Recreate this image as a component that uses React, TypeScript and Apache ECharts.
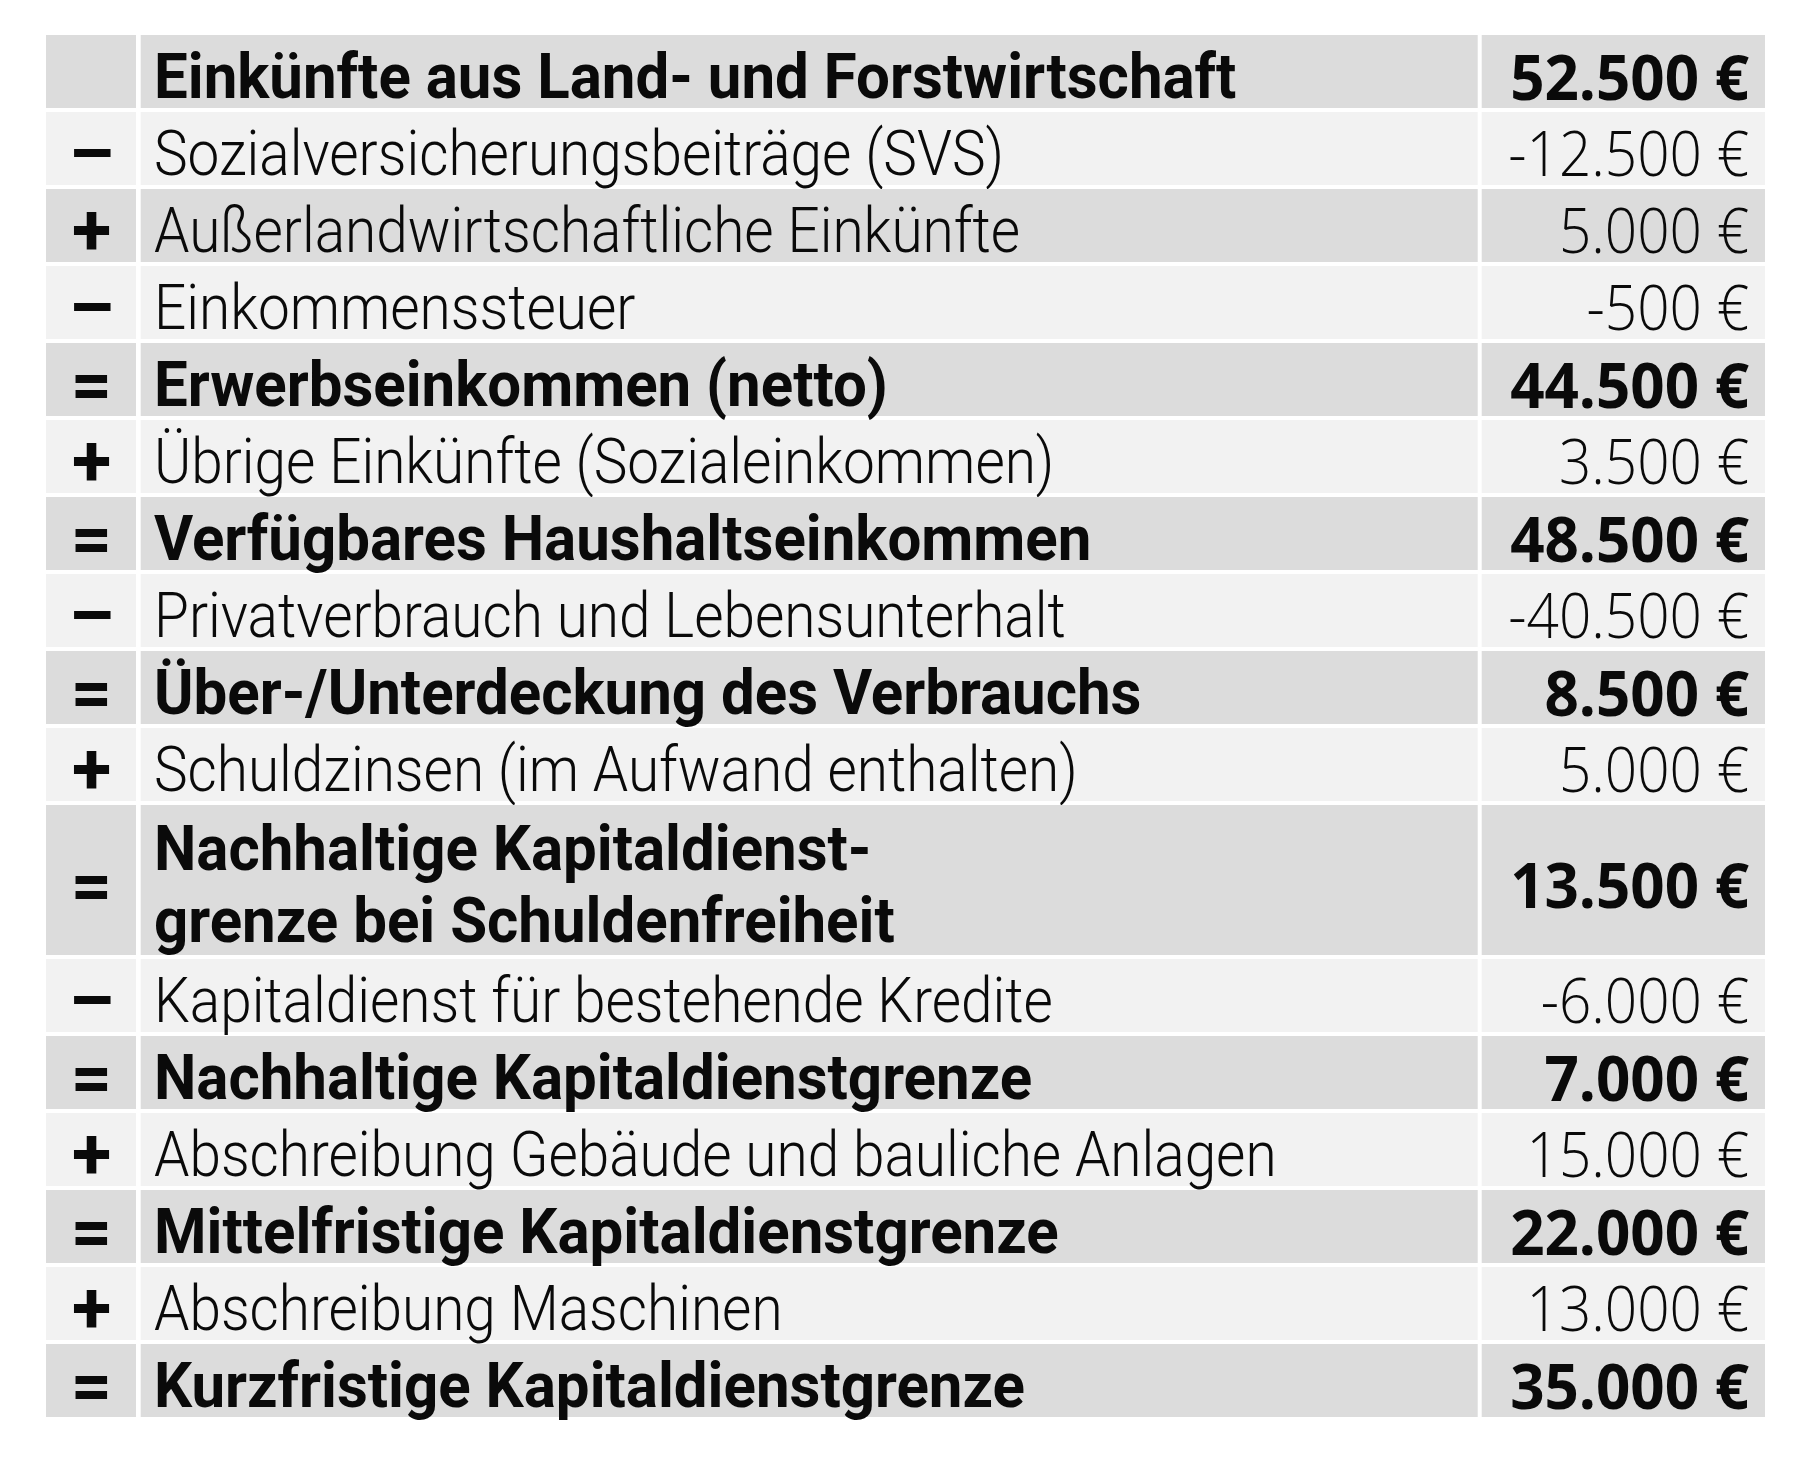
import React, { useEffect, useRef } from "react";
import * as echarts from "echarts";

// ---------- data ----------
const signs = ["", "–", "+", "–", "=", "+", "=", "–", "=", "+", "=", "–", "=", "+", "=", "+", "="];
const labels = [
  "Einkünfte aus Land- und Forstwirtschaft",
  "Sozialversicherungsbeiträge (SVS)",
  "Außerlandwirtschaftliche Einkünfte",
  "Einkommenssteuer",
  "Erwerbseinkommen (netto)",
  "Übrige Einkünfte (Sozialeinkommen)",
  "Verfügbares Haushaltseinkommen",
  "Privatverbrauch und Lebensunterhalt",
  "Über-/Unterdeckung des Verbrauchs",
  "Schuldzinsen (im Aufwand enthalten)",
  "Nachhaltige Kapitaldienst-\ngrenze bei Schuldenfreiheit",
  "Kapitaldienst für bestehende Kredite",
  "Nachhaltige Kapitaldienstgrenze",
  "Abschreibung Gebäude und bauliche Anlagen",
  "Mittelfristige Kapitaldienstgrenze",
  "Abschreibung Maschinen",
  "Kurzfristige Kapitaldienstgrenze",
];
const values = [52500, -12500, 5000, -500, 44500, 3500, 48500, -40500, 8500, 5000, 13500, -6000, 7000, 15000, 22000, 13000, 35000];
const isTotal = [true, false, false, false, true, false, true, false, true, false, true, false, true, false, true, false, true];
const rowSpans = [1, 1, 1, 1, 1, 1, 1, 1, 1, 1, 2, 1, 1, 1, 1, 1, 1];

// ---------- layout / style ----------
const GRID_LEFT = 46;
const GRID_TOP = 33;
const GRID_W = 1719;
const GRID_H = 1386;
const ROW_GAP = 4;
const COL1_W = 90;
const COL2_X = 94.7;
const COL2_W = 1337;
const COL3_X = 1435.7;
const SIGN_CX = 45.5;
const NAME_X = 108;
const VALUE_R = 1703;
const DARK = "#dcdcdc";
const LIGHT = "#f2f2f2";
const INK = "#0a0a0a";
const FS = 63;
const LINE_H = 72.4;

const NAME_FAMILY = "Roboto";
const VALUE_FAMILY = "'Open Sans'";
const fontNameLight = `300 ${FS}px ${NAME_FAMILY}`;
const fontNameBold = `700 ${FS}px ${NAME_FAMILY}`;
const fontValueLight = `300 ${FS}px ${VALUE_FAMILY}`;
const fontValueBold = `700 ${FS}px ${VALUE_FAMILY}`;
const fontSign = `700 72px ${NAME_FAMILY}`;

function fmtEuro(v: number): string {
  const s = Math.abs(v).toString().replace(/\B(?=(\d{3})+(?!\d))/g, ".");
  return (v < 0 ? "-" : "") + s + " €";
}

function measure(font: string, text: string): number {
  const c = document.createElement("canvas");
  const ctx = c.getContext("2d");
  if (!ctx) return 1;
  ctx.font = font;
  return ctx.measureText(text).width || 1;
}

export default function App() {
  const ref = useRef<HTMLDivElement | null>(null);

  useEffect(() => {
    if (!ref.current) return;
    const chart = echarts.init(ref.current, undefined, { renderer: "svg" });

    // horizontal condensation so that the substitute fonts match the narrow original face
    const sNameLight = 850 / measure(fontNameLight, labels[1]);
    const sNameBold = 1083 / measure(fontNameBold, labels[0]);
    const sValueLight = 190 / measure(fontValueLight, fmtEuro(values[5]));
    const sValueBold = 239 / measure(fontValueBold, fmtEuro(values[4]));

    const rowStart: number[] = [];
    let acc = 0;
    rowSpans.forEach((s) => {
      rowStart.push(acc);
      acc += s;
    });
    const data = rowStart.map((st, i) => [st, rowSpans[i]]);

    const txt = (x: number, y: number, text: string, font: string, align: string, scaleX: number) => ({
      type: "text",
      x,
      y,
      scaleX,
      silent: true,
      style: {
        text,
        font,
        fill: INK,
        textAlign: align,
        textVerticalAlign: "middle",
        align,
        verticalAlign: "middle",
      },
    });

    const option: any = {
      animation: false,
      backgroundColor: "#ffffff",
      grid: { left: GRID_LEFT, top: GRID_TOP, width: GRID_W, height: GRID_H },
      xAxis: { type: "value", min: 0, max: 1, show: false },
      yAxis: { type: "value", min: 0, max: acc, inverse: true, show: false },
      series: [
        {
          type: "custom",
          clip: false,
          data,
          renderItem: (params: any, api: any) => {
            const i = params.dataIndex;
            const start = api.value(0);
            const span = api.value(1);
            const x0 = params.coordSys.x;
            const yTop = api.coord([0, start])[1] + ROW_GAP / 2;
            const yBot = api.coord([0, start + span])[1] - ROW_GAP / 2;
            const h = yBot - yTop;
            const cy = (yTop + yBot) / 2;
            const fill = i % 2 === 0 ? DARK : LIGHT;
            const bold = isTotal[i];
            const children: any[] = [
              { type: "rect", shape: { x: x0, y: yTop, width: COL1_W, height: h }, style: { fill } },
              { type: "rect", shape: { x: x0 + COL2_X, y: yTop, width: COL2_W, height: h }, style: { fill } },
              {
                type: "rect",
                shape: { x: x0 + COL3_X, y: yTop, width: GRID_W - COL3_X, height: h },
                style: { fill },
              },
            ];
            if (signs[i]) children.push(txt(x0 + SIGN_CX, cy + 5, signs[i], fontSign, "center", 1));
            const lines = labels[i].split("\n");
            lines.forEach((ln, k) => {
              const off = (k - (lines.length - 1) / 2) * LINE_H;
              children.push(
                txt(x0 + NAME_X, cy + 4.6 + off, ln, bold ? fontNameBold : fontNameLight, "left", bold ? sNameBold : sNameLight)
              );
            });
            children.push(
              txt(
                x0 + VALUE_R,
                cy + 3.8,
                fmtEuro(values[i]),
                bold ? fontValueBold : fontValueLight,
                "right",
                bold ? sValueBold : sValueLight
              )
            );
            return { type: "group", children };
          },
        },
      ],
    };

    chart.setOption(option);
    return () => chart.dispose();
  }, []);

  return (
    <div
      ref={ref}
      style={{ position: "absolute", left: 0, top: 0, width: 1800, height: 1466, background: "#ffffff" }}
    />
  );
}
